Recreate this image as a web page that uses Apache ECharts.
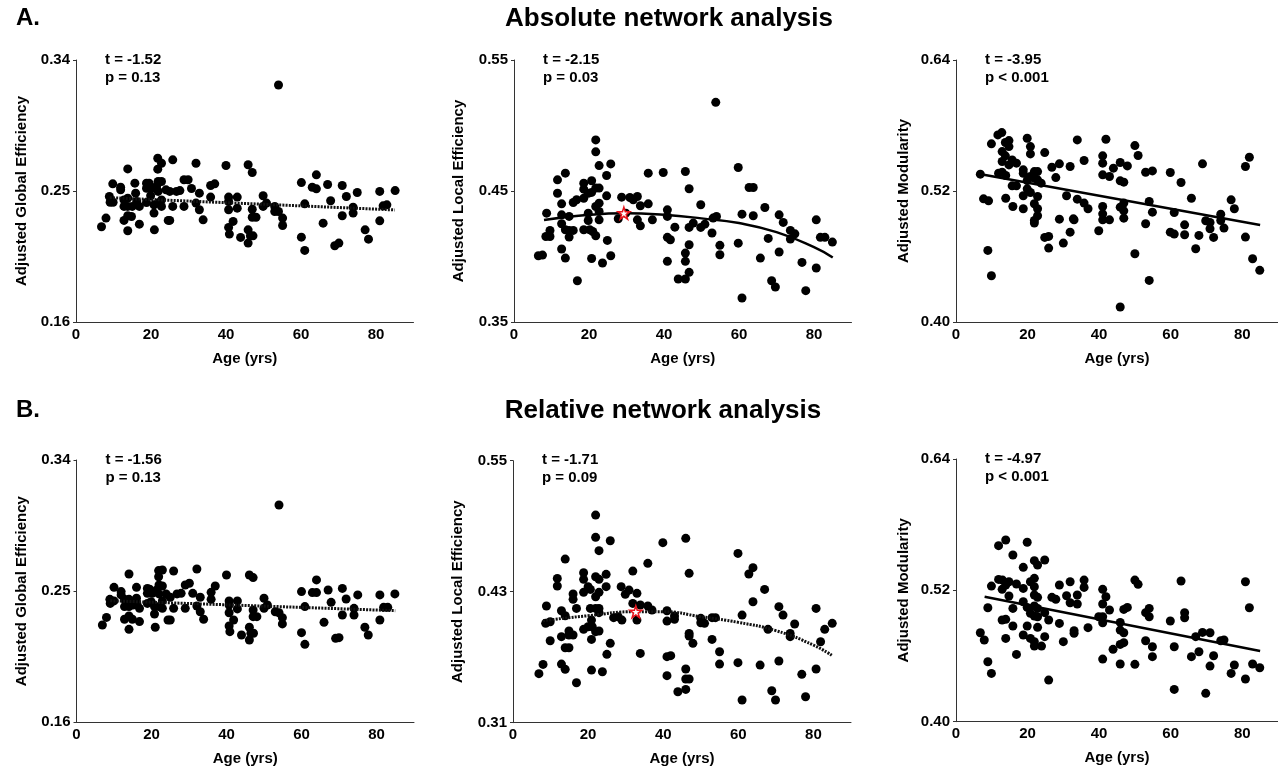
<!DOCTYPE html>
<html>
<head>
<meta charset="utf-8">
<script src="https://cdn.jsdelivr.net/npm/echarts@6/dist/echarts.min.js"></script>
<style>
html,body{margin:0;padding:0;background:#fff;}
#chart{width:1278px;height:772px;}
</style>
</head>
<body>
<div id="chart"></div>
<script>
// ---------------- DATA ----------------
const xTicks = [0, 20, 40, 60, 80];
const yTicksGlobal = [0.16, 0.25, 0.34];
const yTicksLocalA = [0.35, 0.45, 0.55];
const yTicksLocalB = [0.31, 0.43, 0.55];
const yTicksModularity = [0.40, 0.52, 0.64];

const titles = ['Absolute network analysis', 'Relative network analysis'];
const rowLabels = ['A.', 'B.'];
const yNames = ['Adjusted Global Efficiency', 'Adjusted Local Efficiency', 'Adjusted Modularity'];
const xName = 'Age (yrs)';
const statT = ['t = -1.52', 't = -2.15', 't = -3.95', 't = -1.56', 't = -1.71', 't = -4.97'];
const statP = ['p = 0.13', 'p = 0.03', 'p < 0.001', 'p = 0.13', 'p = 0.09', 'p < 0.001'];

const absGlobal = [
[6.8,0.2254],[8.0,0.2314],[8.9,0.2462],[9.1,0.2423],[9.8,0.2549],[9.9,0.2423],[11.9,0.2526],[11.9,0.2508],
[12.8,0.2439],[12.8,0.2394],[12.8,0.2298],[13.8,0.2652],[13.8,0.2451],[13.8,0.2394],[13.8,0.2330],[13.8,0.2227],
[14.8,0.2325],[15.0,0.2394],[15.7,0.2554],[15.9,0.2485],[16.2,0.2428],[16.9,0.2394],[16.9,0.2272],[18.8,0.2554],
[18.8,0.2519],[18.8,0.2421],[19.5,0.2554],[19.9,0.2467],[20.2,0.2519],[20.8,0.2405],[20.8,0.2348],[20.9,0.2233],
[21.5,0.2531],[21.8,0.2725],[21.8,0.2650],[21.9,0.2565],[21.9,0.2497],[21.9,0.2417],[22.8,0.2691],[22.8,0.2565],
[22.8,0.2439],[22.8,0.2394],[24.0,0.2508],[24.6,0.2298],[25.0,0.2298],[25.0,0.2497],[25.8,0.2714],[25.8,0.2394],
[26.8,0.2497],[27.7,0.2503],[28.8,0.2394],[28.8,0.2577],[29.9,0.2577],[30.8,0.2517],[32.0,0.2691],[32.0,0.2417],
[32.9,0.2485],[32.9,0.2371],[33.9,0.2302],[35.9,0.2458],[35.9,0.2538],[37.0,0.2549],[40.0,0.2675],[40.7,0.2458],
[40.7,0.2428],[40.7,0.2371],[40.7,0.2250],[40.9,0.2204],[41.9,0.2291],[43.0,0.2458],[43.0,0.2382],[43.9,0.2181],
[45.9,0.2680],[45.9,0.2233],[45.9,0.2142],[46.5,0.2192],[47.0,0.2627],[47.0,0.2375],[47.0,0.2320],[48.0,0.2320],
[47.2,0.2192],[49.9,0.2467],[49.9,0.2394],[50.8,0.2417],[53.0,0.2394],[53.0,0.2359],[54.0,0.3228],[54.0,0.2359],
[55.1,0.2314],[55.1,0.2263],[60.1,0.2558],[60.1,0.2183],[61.0,0.2412],[61.0,0.2092],[63.0,0.2526],[64.1,0.2611],
[64.1,0.2515],[65.9,0.2279],[67.1,0.2545],[67.9,0.2433],[69.0,0.2124],[70.1,0.2142],[71.0,0.2538],[71.0,0.2330],
[72.1,0.2462],[73.9,0.2389],[73.9,0.2348],[75.0,0.2490],[77.1,0.2233],[78.0,0.2169],[81.0,0.2497],[81.0,0.2295],
[81.9,0.2398],[82.9,0.2405],[85.1,0.2503]
];
const absGlobalFit = [[9,0.2454],[85,0.2370]];

const absLocal = [
[6.5,0.4006],[7.6,0.4011],[8.7,0.4331],[8.5,0.4153],[9.6,0.4199],[9.6,0.4153],[11.6,0.4585],[11.6,0.4483],
[12.7,0.4402],[12.7,0.4318],[12.7,0.4250],[12.7,0.4057],[13.7,0.4636],[13.7,0.4204],[13.7,0.3988],[14.7,0.4306],
[14.7,0.4148],[14.7,0.4199],[15.8,0.4412],[15.8,0.4199],[16.7,0.4433],[16.9,0.3815],[18.6,0.4560],[18.6,0.4514],
[18.6,0.4445],[18.6,0.4204],[19.8,0.4483],[19.8,0.4331],[19.8,0.4275],[20.2,0.4204],[20.7,0.4578],[20.7,0.4489],
[20.7,0.3985],[21.0,0.4191],[21.8,0.4890],[21.8,0.4799],[21.8,0.4522],[21.8,0.4382],[21.8,0.4158],[22.7,0.4694],
[22.7,0.4522],[22.7,0.4407],[22.7,0.4344],[22.7,0.4280],[23.6,0.3950],[24.7,0.4618],[24.7,0.4463],[24.9,0.4123],
[25.8,0.4707],[25.8,0.4006],[27.8,0.4288],[28.7,0.4453],[29.8,0.4331],[30.9,0.4450],[31.8,0.4433],[32.9,0.4458],
[32.9,0.4280],[33.7,0.4234],[33.7,0.4387],[35.8,0.4636],[35.8,0.4402],[36.9,0.4280],[39.8,0.4641],[40.9,0.4356],
[40.9,0.4306],[40.9,0.4146],[40.9,0.3963],[41.7,0.4128],[42.9,0.4224],[43.8,0.3828],[45.7,0.4649],[45.7,0.4026],
[45.7,0.3963],[45.7,0.3828],[46.7,0.4517],[46.7,0.4222],[46.7,0.4090],[46.7,0.3879],[47.8,0.4255],[49.8,0.4395],
[49.8,0.4222],[50.9,0.4247],[52.8,0.4179],[53.1,0.4293],[53.8,0.5177],[54.0,0.4306],[54.9,0.4085],[54.9,0.4013],
[59.8,0.4679],[59.8,0.4102],[60.8,0.4323],[60.8,0.3683],[62.7,0.4527],[63.8,0.4527],[63.8,0.4311],[65.7,0.3988],
[66.9,0.4374],[67.8,0.4138],[68.7,0.3815],[69.7,0.3767],[70.7,0.4318],[70.7,0.4034],[71.8,0.4260],[73.7,0.4199],
[73.7,0.4133],[74.9,0.4173],[76.8,0.3955],[77.8,0.3739],[80.6,0.4280],[80.6,0.3912],[81.7,0.4146],[82.9,0.4146],
[84.9,0.4110]
];
const absLocalFit = [[8,0.4279],[20,0.4318],[30,0.4330],[40,0.4318],[50,0.4291],[60,0.4255],[70,0.4186],[80,0.4072],[85,0.3993]];
const absLocalStar = [[29.3,0.4331]];

const absModularity = [
[6.8,0.5354],[7.7,0.5128],[9.1,0.5110],[8.9,0.4656],[9.9,0.5632],[9.9,0.4424],[11.7,0.5714],[12.8,0.5735],
[11.9,0.5363],[12.9,0.5561],[12.9,0.5470],[12.9,0.5372],[13.8,0.5644],[13.8,0.5522],[13.9,0.5342],[13.9,0.5134],
[14.8,0.5662],[14.8,0.5607],[14.8,0.5439],[15.7,0.5485],[15.7,0.5247],[15.9,0.5058],[16.9,0.5247],[16.9,0.5455],
[18.8,0.5394],[18.8,0.5363],[18.8,0.5156],[18.8,0.5037],[19.9,0.5683],[19.9,0.5296],[19.9,0.5220],[20.8,0.5607],
[20.8,0.5540],[20.8,0.5333],[20.8,0.5186],[21.9,0.5378],[21.9,0.5317],[21.9,0.5083],[21.9,0.4930],[21.9,0.4906],
[22.8,0.5378],[22.8,0.5302],[22.8,0.5150],[22.8,0.5037],[22.8,0.4973],[23.8,0.5272],[24.8,0.5552],[24.8,0.4775],
[25.9,0.4784],[25.9,0.4677],[26.8,0.5418],[27.9,0.5323],[28.9,0.5449],[28.9,0.4942],[30.0,0.4723],[30.9,0.5156],
[31.9,0.5424],[31.9,0.4823],[32.8,0.4945],[33.0,0.4936],[33.9,0.5668],[33.9,0.5125],[35.8,0.5479],[35.8,0.5089],
[36.9,0.5037],[39.9,0.4836],[41.0,0.5522],[41.0,0.5455],[41.0,0.5348],[41.0,0.5058],[41.0,0.4991],[41.0,0.4936],
[41.9,0.5674],[42.9,0.5333],[42.9,0.4936],[44.0,0.5409],[45.9,0.5461],[45.9,0.5293],[45.9,0.5052],[45.9,0.4137],
[46.9,0.5281],[46.9,0.5089],[46.9,0.5018],[46.9,0.4951],[47.9,0.5430],[50.0,0.5616],[50.0,0.4625],[50.9,0.5525],
[53.0,0.5372],[53.0,0.4900],[54.0,0.5104],[54.0,0.4381],[54.9,0.5384],[54.9,0.5006],[59.9,0.5369],[59.9,0.4823],
[61.0,0.4805],[61.0,0.5003],[62.9,0.5278],[63.9,0.4890],[63.9,0.4799],[65.8,0.5134],[67.0,0.4671],[67.9,0.4793],
[68.9,0.5449],[69.8,0.4927],[71.0,0.4912],[71.0,0.4854],[72.0,0.4775],[74.0,0.4988],[74.0,0.4930],[74.9,0.4860],
[76.9,0.5119],[77.8,0.5037],[80.9,0.5424],[82.0,0.5509],[80.9,0.4778],[82.9,0.4579],[84.9,0.4473]
];
const absModularityFit = [[7,0.5354],[85,0.4889]];

const relGlobal = [
[6.9,0.2268],[8.0,0.2320],[8.9,0.2444],[9.0,0.2416],[10.0,0.2526],[10.0,0.2433],[11.9,0.2497],[11.9,0.2474],
[12.8,0.2444],[12.8,0.2394],[12.8,0.2307],[14.0,0.2618],[14.0,0.2444],[14.0,0.2394],[14.0,0.2330],[14.0,0.2238],
[14.9,0.2307],[15.1,0.2405],[16.0,0.2526],[16.0,0.2451],[16.1,0.2416],[16.8,0.2382],[16.8,0.2291],[18.9,0.2519],
[18.9,0.2485],[18.9,0.2416],[19.5,0.2513],[19.9,0.2428],[20.2,0.2485],[20.8,0.2394],[20.8,0.2343],[21.0,0.2252],
[21.4,0.2508],[21.9,0.2641],[21.9,0.2599],[22.0,0.2542],[22.0,0.2481],[22.0,0.2394],[22.9,0.2645],[22.9,0.2535],
[22.9,0.2433],[22.9,0.2382],[23.9,0.2481],[24.4,0.2302],[25.0,0.2302],[25.0,0.2458],[25.9,0.2638],[25.9,0.2382],
[26.8,0.2481],[27.9,0.2485],[29.0,0.2382],[29.0,0.2542],[30.1,0.2554],[31.0,0.2485],[32.1,0.2652],[32.1,0.2398],
[33.0,0.2458],[33.0,0.2359],[33.9,0.2307],[35.9,0.2492],[35.9,0.2444],[37.0,0.2535],[40.0,0.2611],[40.7,0.2433],
[40.7,0.2405],[40.7,0.2352],[40.7,0.2261],[40.9,0.2222],[41.9,0.2302],[42.9,0.2433],[42.9,0.2378],[44.0,0.2199],
[46.1,0.2611],[46.1,0.2252],[46.1,0.2165],[46.5,0.2211],[47.1,0.2593],[47.1,0.2371],[47.1,0.2325],[48.1,0.2325],
[47.2,0.2211],[50.0,0.2451],[50.0,0.2382],[50.9,0.2405],[53.0,0.2359],[54.0,0.3091],[54.0,0.2352],[54.9,0.2318],
[54.9,0.2275],[60.0,0.2497],[60.0,0.2215],[60.9,0.2394],[60.9,0.2135],[62.9,0.2490],[64.0,0.2577],[64.0,0.2490],
[66.0,0.2286],[67.1,0.2508],[67.9,0.2423],[69.1,0.2176],[70.0,0.2181],[70.9,0.2519],[70.9,0.2336],[71.9,0.2446],
[74.0,0.2382],[74.0,0.2336],[75.0,0.2474],[76.9,0.2252],[77.8,0.2199],[80.9,0.2474],[80.9,0.2302],[81.9,0.2389],
[83.0,0.2389],[84.9,0.2481]
];
const relGlobalFit = [[9,0.2434],[85,0.2366]];

const relLocal = [
[6.9,0.3549],[8.0,0.3634],[8.9,0.4169],[8.7,0.4010],[9.9,0.4025],[9.9,0.3851],[11.8,0.4422],[11.8,0.4352],
[12.9,0.4126],[12.9,0.3888],[12.9,0.3637],[13.9,0.4599],[13.9,0.4080],[13.9,0.3589],[14.9,0.3940],[14.9,0.3903],
[14.9,0.3787],[13.9,0.3787],[16.0,0.4279],[16.0,0.4230],[16.0,0.3903],[16.9,0.4147],[16.9,0.3466],[18.8,0.4474],
[18.8,0.4413],[18.8,0.4294],[18.8,0.3955],[20.0,0.4346],[20.0,0.3979],[20.6,0.4321],[20.6,0.4147],[20.9,0.4040],
[20.9,0.3863],[20.9,0.3582],[21.1,0.3979],[22.0,0.5002],[22.0,0.4798],[22.0,0.4437],[22.0,0.4254],[22.0,0.4147],
[22.0,0.3934],[22.9,0.4676],[22.9,0.4413],[22.9,0.4294],[22.9,0.4147],[22.9,0.4108],[22.9,0.3940],[23.8,0.3567],
[24.8,0.4459],[24.8,0.4346],[25.0,0.3726],[25.9,0.4767],[25.9,0.3827],[26.8,0.4062],[28.0,0.4071],[28.8,0.4346],
[29.0,0.4040],[29.9,0.4276],[30.9,0.4315],[31.9,0.4489],[31.9,0.4193],[33.0,0.4285],[33.0,0.4040],[33.9,0.4178],
[33.9,0.3735],[35.9,0.4560],[35.9,0.4169],[37.0,0.4132],[39.9,0.4749],[41.0,0.4126],[41.0,0.4031],[41.0,0.3705],
[41.0,0.3531],[42.0,0.3714],[43.0,0.4077],[43.0,0.4047],[43.9,0.3384],[46.0,0.4789],[46.0,0.3592],[46.0,0.3500],
[46.0,0.3405],[46.9,0.4468],[46.9,0.3918],[46.9,0.3894],[46.9,0.3500],[47.9,0.3827],[50.0,0.4056],[50.0,0.4016],
[51.0,0.4010],[53.0,0.3863],[53.0,0.4062],[53.9,0.4062],[55.0,0.3750],[55.0,0.3637],[59.9,0.4651],[59.9,0.3650],
[61.0,0.4086],[61.0,0.3308],[62.8,0.4462],[63.9,0.4520],[63.9,0.4208],[65.8,0.3628],[67.0,0.4321],[67.9,0.3955],
[68.9,0.3393],[69.9,0.3308],[70.8,0.4163],[70.8,0.3665],[71.9,0.4086],[73.8,0.3918],[73.8,0.3888],[75.0,0.4004],
[76.9,0.3543],[77.9,0.3338],[80.7,0.4147],[80.7,0.3592],[81.9,0.3842],[83.0,0.3955],[85.0,0.4010]
];
const relLocalFit = [[8,0.4034],[20,0.4080],[32.7,0.4117],[40,0.4117],[50,0.4071],[60,0.4019],[70,0.3943],[80,0.3811],[85,0.3714]];
const relLocalStar = [[32.7,0.4117]];

const relModularity = [
[6.8,0.4813],[7.9,0.4746],[8.9,0.5041],[8.9,0.4548],[9.9,0.5239],[9.9,0.4441],[11.9,0.5608],[11.9,0.5300],
[12.9,0.5209],[12.9,0.4929],[13.0,0.5294],[13.9,0.5660],[13.9,0.5249],[13.9,0.4935],[13.9,0.4761],[14.8,0.5279],
[14.8,0.5148],[15.9,0.5523],[15.9,0.5035],[15.9,0.4874],[16.9,0.5258],[16.9,0.4615],[18.8,0.5410],[18.8,0.5218],
[18.8,0.5096],[18.8,0.4792],[19.9,0.5639],[19.9,0.5044],[19.9,0.4874],[20.8,0.5279],[20.8,0.4990],[20.8,0.4761],
[21.9,0.5471],[21.9,0.5310],[21.9,0.5233],[21.9,0.5157],[21.9,0.5057],[21.9,0.4965],[21.9,0.4731],[21.9,0.4691],
[22.8,0.5431],[22.8,0.5136],[22.8,0.5035],[22.8,0.4959],[22.8,0.4862],[23.9,0.4691],[24.8,0.5477],[24.8,0.4996],
[24.8,0.4777],[25.9,0.4929],[25.9,0.4380],[26.8,0.5136],[27.9,0.5118],[28.9,0.5249],[28.9,0.4898],[30.0,0.4731],
[30.9,0.5151],[31.9,0.5279],[31.9,0.5087],[33.0,0.4831],[33.0,0.4807],[33.9,0.5157],[33.9,0.5075],[35.8,0.5294],
[35.8,0.5227],[36.9,0.4859],[39.9,0.4959],[41.0,0.5209],[41.0,0.5075],[41.0,0.4959],[41.0,0.4904],[41.0,0.4572],
[41.9,0.5142],[42.9,0.5020],[43.9,0.4661],[45.9,0.4907],[45.9,0.4837],[45.9,0.4706],[45.9,0.4527],[46.9,0.5026],
[46.9,0.4813],[46.9,0.4722],[47.9,0.5044],[50.0,0.5294],[50.0,0.4524],[50.9,0.5255],[53.0,0.4996],[53.0,0.4740],
[54.0,0.5035],[54.0,0.4959],[54.9,0.4685],[54.9,0.4594],[59.9,0.4920],[61.0,0.4685],[61.0,0.4295],[62.9,0.5285],
[63.9,0.4996],[63.9,0.4950],[65.8,0.4594],[67.0,0.4777],[67.9,0.4639],[68.9,0.4816],[69.8,0.4259],[71.0,0.4813],
[71.0,0.4508],[72.0,0.4603],[74.0,0.4740],[74.9,0.4746],[76.9,0.4441],[77.8,0.4518],[80.9,0.5279],[82.0,0.5041],
[80.9,0.4390],[82.9,0.4527],[84.9,0.4493]
];
const relModularityFit = [[8,0.5142],[85,0.4646]];

// ---------------- LAYOUT / STYLE ----------------
const FONT = '"Liberation Sans", Arial, Helvetica, sans-serif';
const layout = [
  {left: 76,  top: 60,  width: 337.5, height: 262, nameGap: 47},
  {left: 514, top: 60,  width: 337.5, height: 262, nameGap: 48},
  {left: 956, top: 60,  width: 337.5, height: 262, nameGap: 45},
  {left: 76.5,top: 460, width: 337.5, height: 262.3, nameGap: 47},
  {left: 513, top: 460.7, width: 338, height: 262, nameGap: 48},
  {left: 956, top: 459, width: 337.5, height: 262.7, nameGap: 45}
];
const panels = [
  {data: absGlobal, fit: absGlobalFit, dotted: true, smooth: false, star: null, ticks: yTicksGlobal, yName: yNames[0]},
  {data: absLocal, fit: absLocalFit, dotted: false, smooth: true, star: absLocalStar, ticks: yTicksLocalA, yName: yNames[1]},
  {data: absModularity, fit: absModularityFit, dotted: false, smooth: false, star: null, ticks: yTicksModularity, yName: yNames[2]},
  {data: relGlobal, fit: relGlobalFit, dotted: true, smooth: false, star: null, ticks: yTicksGlobal, yName: yNames[0]},
  {data: relLocal, fit: relLocalFit, dotted: true, smooth: true, star: relLocalStar, ticks: yTicksLocalB, yName: yNames[1]},
  {data: relModularity, fit: relModularityFit, dotted: false, smooth: false, star: null, ticks: yTicksModularity, yName: yNames[2]}
];
const STAR = 'path://M50,0 L61.2,34.5 L97.6,34.5 L68.2,55.9 L79.4,90.5 L50,69.1 L20.6,90.5 L31.8,55.9 L2.4,34.5 L38.8,34.5 Z';
const labelStyle = {color: '#000', fontWeight: 'bold', fontSize: 15, fontFamily: FONT};

const grids = [], xAxes = [], yAxes = [], series = [], graphics = [];
panels.forEach((p, i) => {
  const L = layout[i];
  grids.push({left: L.left, top: L.top, width: L.width, height: L.height, containLabel: false});
  xAxes.push({
    type: 'value', gridIndex: i, min: 0, max: 90,
    name: xName, nameLocation: 'middle', nameGap: 29, nameTextStyle: labelStyle,
    axisLine: {show: true, onZero: false, lineStyle: {color: '#333', width: 1}},
    axisTick: {show: false},
    splitLine: {show: false},
    axisLabel: Object.assign({customValues: xTicks, margin: 5}, labelStyle)
  });
  yAxes.push({
    type: 'value', gridIndex: i, min: p.ticks[0], max: p.ticks[p.ticks.length - 1],
    name: p.yName, nameLocation: 'middle', nameGap: L.nameGap, nameRotate: 90, nameTextStyle: labelStyle,
    axisLine: {show: true, onZero: false, lineStyle: {color: '#333', width: 1}},
    axisTick: {show: true, inside: false, length: 3, customValues: p.ticks, lineStyle: {color: '#333'}},
    splitLine: {show: false},
    axisLabel: Object.assign({customValues: p.ticks, margin: 6, formatter: v => v.toFixed(2)}, labelStyle)
  });
  series.push({
    type: 'scatter', xAxisIndex: i, yAxisIndex: i, data: p.data,
    symbol: 'circle', symbolSize: 9, itemStyle: {color: '#000', opacity: 1}, silent: true, z: 2
  });
  series.push({
    type: 'line', xAxisIndex: i, yAxisIndex: i, data: p.fit, smooth: p.smooth,
    showSymbol: false, silent: true, z: 3,
    lineStyle: p.dotted ? {color: '#111', width: 3, type: [2, 1.2], opacity: 1} : {color: '#000', width: 2.5, opacity: 1}
  });
  if (p.star) {
    series.push({
      type: 'scatter', xAxisIndex: i, yAxisIndex: i, data: p.star,
      symbol: STAR, symbolSize: 12, silent: true, z: 5,
      itemStyle: {color: '#fff', borderColor: '#e8141c', borderWidth: 1.5, opacity: 1}
    });
  }
  graphics.push({type: 'text', left: L.left + 29, top: L.top - 8, silent: true,
    style: {text: statT[i], fill: '#000', font: 'bold 15px ' + FONT}});
  graphics.push({type: 'text', left: L.left + 29, top: L.top + 10, silent: true,
    style: {text: statP[i], fill: '#000', font: 'bold 15px ' + FONT}});
});

// row letters and titles
graphics.push({type: 'text', x: 16, y: 18.6, silent: true,
  style: {text: rowLabels[0], fill: '#000', font: 'bold 24px ' + FONT, textAlign: 'left', textVerticalAlign: 'middle'}});
graphics.push({type: 'text', x: 16, y: 410.5, silent: true,
  style: {text: rowLabels[1], fill: '#000', font: 'bold 24px ' + FONT, textAlign: 'left', textVerticalAlign: 'middle'}});
graphics.push({type: 'text', x: 669, y: 18.6, silent: true,
  style: {text: titles[0], fill: '#000', font: 'bold 26px ' + FONT, textAlign: 'center', textVerticalAlign: 'middle'}});
graphics.push({type: 'text', x: 663, y: 411, silent: true,
  style: {text: titles[1], fill: '#000', font: 'bold 26px ' + FONT, textAlign: 'center', textVerticalAlign: 'middle'}});

const chart = echarts.init(document.getElementById('chart'), null, {renderer: 'canvas'});
chart.setOption({
  animation: false,
  backgroundColor: '#fff',
  grid: grids,
  xAxis: xAxes,
  yAxis: yAxes,
  series: series,
  graphic: graphics
});
</script>
</body>
</html>
